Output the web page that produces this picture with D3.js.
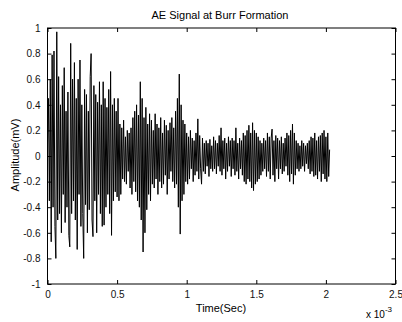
<!DOCTYPE html>
<html>
<head>
<meta charset="utf-8">
<script src="https://cdn.jsdelivr.net/npm/d3@7"></script>
<style>
  body { margin: 0; background: #fff; }
  svg { display: block; font-family: "Liberation Sans", Arial, sans-serif; }
</style>
</head>
<body>
<div id="chart"></div>
<script>
const sampleRate = 150000; // Hz
const burstA = [0.10,0.45,-0.35,0.60,-0.67,0.79,-0.40,0.82,-0.55,-0.80,
  0.97,-0.50,0.62,-0.45,0.40,-0.60,0.55,-0.30,0.69,-0.52,
  0.35,-0.40,0.50,-0.62,-0.71,0.88,-0.45,0.60,-0.35,0.73,
  -0.50,0.45,-0.73,0.60,-0.30,0.75,-0.55,0.40,-0.45,-0.80,
  0.52,-0.38,0.48,-0.60,0.35,-0.42,0.62,0.80,-0.50,-0.63];
const burstB = [0.55,-0.35,0.48,-0.60,0.42,-0.30,0.58,-0.45,0.40,-0.55,
  0.58,-0.54,0.45,-0.40,0.38,-0.30,0.52,-0.45,0.66,-0.62,
  0.40,-0.35,0.45,-0.28,0.35,-0.32,0.45,-0.35,0.25,-0.30,
  0.22,-0.18,0.28,-0.20,0.15,-0.22,0.20,-0.12,0.18,-0.25,
  0.22,-0.30,0.30,-0.20,0.35,-0.28,0.40,-0.35,0.32,-0.40];
const burstC = [0.58,-0.50,0.45,-0.75,0.30,-0.60,0.38,-0.42,0.25,-0.30,
  0.33,-0.35,0.28,-0.22,0.20,-0.25,0.33,-0.18,0.25,-0.30,
  0.22,-0.20,0.30,-0.25,0.18,-0.22,0.28,-0.15,0.24,-0.30,
  0.20,-0.18,0.26,-0.12,0.30,-0.20,0.22,-0.25,0.35,-0.22,
  0.45,-0.40,0.64,-0.61,0.40,-0.35,0.28,-0.30,0.25,-0.20];
const tailD = [0.18,-0.22,0.15,-0.18,0.20,-0.10,0.14,-0.20,0.12,-0.15,
  0.18,-0.12,0.29,-0.18,0.16,-0.10,-0.22,0.14,-0.12,0.10,
  -0.14,0.12,-0.08,0.10,-0.16,0.13,-0.10,0.08,-0.12,0.15,
  -0.10,0.12,-0.14,0.10,-0.08,0.16,-0.12,0.22,-0.15,0.12,
  -0.10,0.14,-0.18,0.10,-0.12,0.15,-0.08,0.12,-0.16,0.14];
const tailE = [-0.10,0.12,-0.15,0.22,-0.12,0.10,-0.18,0.14,-0.10,0.12,
  -0.15,0.18,-0.20,0.16,-0.22,0.20,-0.18,0.24,-0.20,0.18,
  -0.25,0.26,-0.27,0.20,-0.22,0.18,-0.20,0.15,-0.18,0.12,
  -0.15,0.10,-0.12,0.14,-0.10,0.12,-0.16,0.18,-0.12,0.15,
  -0.18,0.14,0.21,-0.15,0.12,-0.20,0.16,-0.10,0.14,-0.18];
const tailF = [0.12,-0.10,0.15,-0.14,0.10,-0.12,0.14,-0.08,0.18,-0.15,
  0.16,-0.20,0.20,-0.14,0.25,-0.22,0.18,-0.15,0.12,-0.10,
  0.10,-0.12,0.08,-0.10,0.12,-0.08,0.10,-0.12,0.08,-0.06,
  0.10,-0.10,0.12,-0.14,0.15,-0.12,0.14,-0.16,0.18,-0.15,
  0.12,-0.18,0.15,-0.12,0.16,-0.20,0.18,-0.14,0.20,-0.18,
  0.15,-0.20,0.18,-0.16,0.05];

const xTicks = [0, 0.5e-3, 1e-3, 1.5e-3, 2e-3, 2.5e-3];
const xTickLabels = ["0", "0.5", "1", "1.5", "2", "2.5"];
const yTicks = [-1, -0.8, -0.6, -0.4, -0.2, 0, 0.2, 0.4, 0.6, 0.8, 1];

const amp = [].concat(burstA, burstB, burstC, tailD, tailE, tailF);
const data = amp.map((v, i) => ({ t: i / sampleRate, v: v }));

const W = 402, H = 322;
const margin = { left: 47.5, right: 6.5, top: 28, bottom: 38 };
const width = W - margin.left - margin.right;
const height = H - margin.top - margin.bottom;

const svg = d3.select("#chart").append("svg")
  .attr("width", W).attr("height", H);

const g = svg.append("g")
  .attr("transform", `translate(${margin.left},${margin.top})`);

const x = d3.scaleLinear().domain([0, 2.5e-3]).range([0, width]);
const y = d3.scaleLinear().domain([-1, 1]).range([height, 0]);

// signal
const line = d3.line().x(d => x(d.t)).y(d => y(d.v));
g.append("path")
  .datum(data)
  .attr("fill", "none")
  .attr("stroke", "#000")
  .attr("stroke-width", 1)
  .attr("d", line);

// axes, ticks inward (matlab style)
const fmtX = (d, i) => xTickLabels[i];
const fmtY = d => String(d);
g.append("g").attr("transform", `translate(0,${height})`)
  .call(d3.axisBottom(x).tickValues(xTicks).tickFormat(fmtX).tickSize(-4).tickPadding(7));
g.append("g")
  .call(d3.axisTop(x).tickValues(xTicks).tickFormat("").tickSize(-4));
g.append("g")
  .call(d3.axisLeft(y).tickValues(yTicks).tickFormat(fmtY).tickSize(-4).tickPadding(7));
g.append("g").attr("transform", `translate(${width},0)`)
  .call(d3.axisRight(y).tickValues(yTicks).tickFormat("").tickSize(-4));

g.selectAll(".domain").remove();
g.selectAll(".tick line").attr("stroke", "#000");
g.selectAll(".tick text").attr("font-size", 10).attr("fill", "#111");

g.append("rect")
  .attr("width", width).attr("height", height)
  .attr("fill", "none").attr("stroke", "#000").attr("stroke-width", 1);

// labels
svg.append("text")
  .attr("x", 220).attr("y", 19)
  .attr("text-anchor", "middle").attr("font-size", 11)
  .text("AE Signal at Burr Formation");

svg.append("text")
  .attr("x", 221).attr("y", 312)
  .attr("text-anchor", "middle").attr("font-size", 11)
  .text("Time(Sec)");

const mult = svg.append("text")
  .attr("x", 366).attr("y", 318).attr("font-size", 10);
mult.append("tspan").text("x 10");
mult.append("tspan").attr("dy", -6).attr("font-size", 8).text("-3");

svg.append("text")
  .attr("transform", "translate(19,155) rotate(-90)")
  .attr("text-anchor", "middle").attr("font-size", 11)
  .text("Amplitude(mV)");
</script>
</body>
</html>
